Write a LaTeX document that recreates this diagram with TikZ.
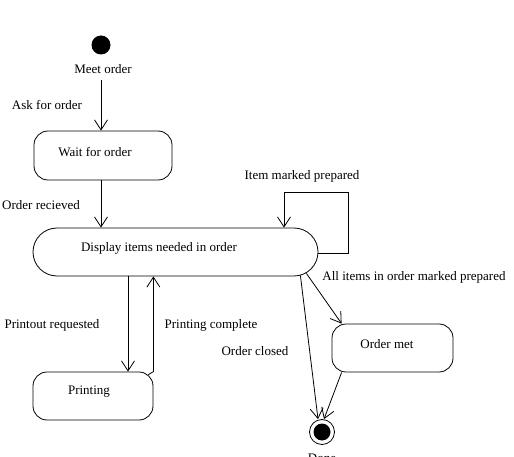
\documentclass[tikz,border=0pt]{standalone}
\usepackage{fontspec}
\setmainfont{Liberation Serif}
\usetikzlibrary{arrows.meta,calc}
\begin{document}
\begin{tikzpicture}[x=1pt,y=-1pt,
  every node/.style={font=\fontsize{13}{15}\selectfont},
  lbl/.style={inner sep=0pt},
  statebox/.style={draw,line width=0.8pt,rounded corners=14pt,inner sep=0pt},
  arr/.style={draw,line width=0.8pt,-{Straight Barb[length=10pt,width=13pt,line width=0.8pt]}},
  ln/.style={draw,line width=0.8pt}]
\useasboundingbox (0,0) rectangle (514,457);
% initial
\node[circle,fill=black,minimum size=19pt,inner sep=0pt] (init) at (101,45) {};
\node[lbl] (meetlbl) at (103,69) {Meet order};
% states
\node[statebox,minimum width=138pt,minimum height=49pt] (wait) at (103,155.5) {};
\node[lbl] (waittxt) at (95,152) {Wait for order};
\node[statebox,rounded corners=24pt,minimum width=285pt,minimum height=48pt] (disp) at (175.5,252) {};
\node[lbl] (disptxt) at (159,248) {Display items needed in order};
\node[statebox,minimum width=120pt,minimum height=48pt] (print) at (93,396) {};
\node[lbl] (printtxt) at (89,392) {Printing};
\node[statebox,minimum width=121pt,minimum height=48pt] (met) at (392.5,348) {};
\node[lbl] (mettxt) at (387,344) {Order met};
% final
\node[circle,draw,line width=0.8pt,minimum size=25pt,inner sep=0pt] (final) at (322,432) {};
\node[circle,fill=black,minimum size=17pt,inner sep=0pt] (finalin) at (final.center) {};
\node[anchor=base,lbl] (donelbl) at (322,462) {Done};
% labels
\node[lbl] (l1) at (47,105) {Ask for order};
\node[lbl] (l2) at (41,205) {Order recieved};
\node[lbl] (l3) at (302,176) {Item marked prepared};
\node[lbl] (l4) at (414,277) {All items in order marked prepared};
\node[lbl] (l5) at (52,325) {Printout requested};
\node[lbl] (l6) at (211,325) {Printing complete};
\node[lbl] (l7) at (255,351) {Order closed};
% coordinates
\coordinate (loopc) at (348,192);
\coordinate (loopx) at (284,0);
\coordinate (prx) at (128,0);
% connectors
\path[arr] ([yshift=-6pt]meetlbl.south -| init) -- (wait.north -| init);
\path[arr] (wait.south -| init) -- (disp.north -| init);
\path[arr] ([yshift=-1pt]disp.east) -| (loopc) -| (disp.north -| loopx);
\path[arr] (disp.south -| prx) -- (print.north -| prx);
\path[ln] ([shift={(-5pt,-3pt)}]print.north east) -- (print.north east);
\path[arr] (print.north east) -- (disp.south -| print.north east);
\path[arr] ([shift={(-12pt,3pt)}]disp.south east) -- ([xshift=10pt]met.north west);
\path[arr] ([shift={(-18pt,1pt)}]disp.south east) -- ([xshift=-4pt]final.north);
\path[arr] ([xshift=10pt]met.south west) -- ([xshift=2pt]final.north);
\end{tikzpicture}
\end{document}
